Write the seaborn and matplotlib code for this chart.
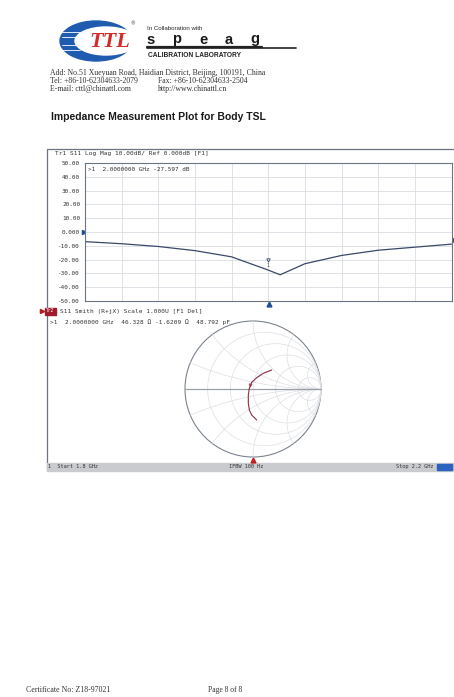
import matplotlib.pyplot as plt
import seaborn as sns
import numpy as np
import pandas as pd
from matplotlib.patches import Ellipse, Rectangle, Circle

# S11 log magnitude trace
freq_ghz = [1.80, 1.84, 1.88, 1.92, 1.96, 2.00, 2.013, 2.04, 2.08, 2.12, 2.16, 2.20]
s11_db = [-7.0, -8.5, -10.5, -13.5, -18.0, -27.6, -31.0, -23.0, -17.0, -13.2, -11.0, -8.8]

# S11 Smith trace, reflection coefficient real / imaginary part
gamma_re = [0.275, 0.151, 0.054, -0.019, -0.054, -0.069, -0.069, -0.054, -0.019, 0.054]
gamma_im = [0.280, 0.231, 0.166, 0.098, 0.010, -0.088, -0.210, -0.309, -0.382, -0.456]

ytick_vals = [50, 40, 30, 20, 10, 0, -10, -20, -30, -40, -50]
ytick_labels = ['50.00', '40.00', '30.00', '20.00', '10.00', '0.000',
                '-10.00', '-20.00', '-30.00', '-40.00', '-50.00']

W, H = 454, 697
sns.set_style('white')
plt.rcParams['font.family'] = ['DejaVu Sans']
fig = plt.figure(figsize=(W / 100, H / 100), dpi=100)

MONO = 'DejaVu Sans Mono'
SERIF = 'Liberation Serif'
SANS = 'Liberation Sans'


def px_axes(x0, y0, x1, y1):
    return fig.add_axes([x0 / W, 1 - y1 / H, (x1 - x0) / W, (y1 - y0) / H])


# page layer in pixel coordinates
page = fig.add_axes([0, 0, 1, 1])
page.set_xlim(0, W)
page.set_ylim(H, 0)
page.axis('off')

# logo
page.add_patch(Ellipse((96, 41), 72, 40, color='#1f5cb0'))
for yy in (32, 37, 45, 50):
    page.plot([62, 80], [yy, yy], color='white', lw=0.6)
page.add_patch(Ellipse((106, 41), 62, 28, color='white'))
page.text(110, 42, 'TTL', family=SERIF, style='italic', weight='bold',
          fontsize=16, color='#d42a2a', ha='center', va='center')
page.text(133, 24, '®', fontsize=3.5, color='#333', ha='center', va='center')

page.text(147, 29, 'In Collaboration with', family=SANS, fontsize=4.4,
          color='#222', va='center')
for i, ch in enumerate('speag'):
    page.text(151 + i * 26, 39.5, ch, family=SANS, weight='bold', fontsize=10.5,
              color='#1a1a1a', ha='center', va='center')
page.plot([147, 296], [47.5, 47.5], color='#222', lw=1.2)
page.plot([147, 262], [46.5, 46.5], color='#222', lw=1.6)
page.text(148, 55.5, 'CALIBRATION LABORATORY', family=SANS, weight='bold',
          fontsize=4.8, color='#222', va='center')

page.text(50, 73, 'Add: No.51 Xueyuan Road, Haidian District, Beijing, 100191, China',
          family=SERIF, fontsize=5.55, color='#333', va='center')
page.text(50, 81, 'Tel: +86-10-62304633-2079', family=SERIF, fontsize=5.55,
          color='#333', va='center')
page.text(158, 81, 'Fax: +86-10-62304633-2504', family=SERIF, fontsize=5.55,
          color='#333', va='center')
page.text(50, 89, 'E-mail: cttl@chinattl.com', family=SERIF, fontsize=5.55,
          color='#333', va='center')
page.text(158, 89, 'http://www.chinattl.cn', family=SERIF, fontsize=5.55,
          color='#333', va='center')

page.text(51, 117, 'Impedance Measurement Plot for Body TSL', family=SANS,
          weight='bold', fontsize=7.45, color='#1a1a1a', va='center')

# instrument screen frame
page.add_patch(Rectangle((47, 149), 410, 321, fill=False, ec='#6b7480', lw=0.9))
page.text(55, 154, 'Tr1 S11 Log Mag 10.00dB/ Ref 0.000dB [F1]', family=MONO,
          fontsize=4.45, color='#333', va='center')
page.plot([84], [232], marker='>', ms=3, color='#1f4f9a')
page.plot([452], [240], marker='<', ms=3, color='#1f4f9a')
page.plot([269], [303.5], marker='^', ms=3.5, color='#1f4f9a')

# Tr2 header and marker readout
page.plot([42], [311], marker='>', ms=3, color='#b02020')
page.add_patch(Rectangle((45, 307.5), 11, 7, color='#a01c2c'))
page.text(50.5, 311, 'Tr2', family=MONO, fontsize=3.3, color='white',
          ha='center', va='center')
page.text(60, 311, 'S11 Smith (R+jX) Scale 1.000U [F1 Del]', family=MONO,
          fontsize=4.45, color='#333', va='center')
page.text(50, 322, '>1  2.0000000 GHz  46.328 Ω -1.6209 Ω  48.792 pF',
          family=MONO, fontsize=4.4, color='#333', va='center')

# status bar
page.add_patch(Rectangle((47, 463), 410, 7.5, color='#c9cbcf'))
page.add_patch(Rectangle((437, 463.5), 15, 6.5, color='#2a62c0'))
page.text(48, 466.8, '1  Start 1.8 GHz', family=MONO, fontsize=3.8,
          color='#333', va='center')
page.text(246, 466.8, 'IFBW 100 Hz', family=MONO, fontsize=3.8,
          color='#333', va='center', ha='center')
page.text(434, 466.8, 'Stop 2.2 GHz', family=MONO, fontsize=3.8,
          color='#333', va='center', ha='right')
page.plot([253], [460], marker='^', ms=3.5, color='#c02020')

# footer
page.text(26, 690, 'Certificate No: Z18-97021', family=SERIF, fontsize=5.7,
          color='#333', va='center')
page.text(208, 690, 'Page 8 of 8', family=SERIF, fontsize=5.5,
          color='#333', va='center')

# ---- log magnitude panel ----
ax1 = px_axes(85, 163, 451.5, 301)
df1 = pd.DataFrame({'freq': freq_ghz, 's11': s11_db})
sns.lineplot(data=df1, x='freq', y='s11', ax=ax1, color='#3a4868', lw=0.9)
ax1.set_xlim(1.8, 2.2)
ax1.set_ylim(-50, 50)
ax1.set_xticks(np.linspace(1.8, 2.2, 11))
ax1.set_xticklabels([])
ax1.set_yticks(ytick_vals)
ax1.set_yticklabels(ytick_labels, family=MONO, fontsize=4.3, color='#333')
ax1.tick_params(length=0, pad=3.5)
ax1.grid(True, color='#d9dde2', lw=0.6)
ax1.set_xlabel('')
ax1.set_ylabel('')
for s in ax1.spines.values():
    s.set_color('#6b7480')
    s.set_linewidth(0.8)
ax1.text(0.008, 0.97, '>1  2.0000000 GHz -27.597 dB', transform=ax1.transAxes,
         family=MONO, fontsize=4.3, color='#333', va='top')
ax1.plot([2.0], [-20], marker='v', ms=2.5, mfc='none', mec='#3a4868', mew=0.6)
ax1.text(2.0, -24.5, '1', family=MONO, fontsize=3.5, color='#3a4868',
         ha='center', va='center')

# ---- Smith chart panel ----
R = 68
lim = 72 / R
ax2 = px_axes(253 - 72, 389 - 72, 253 + 72, 389 + 72)
ax2.set_xlim(-lim, lim)
ax2.set_ylim(-lim, lim)
ax2.set_aspect('equal')
ax2.axis('off')
ax2.patch.set_alpha(0)

grid_c = '#dcdfe3'
t = np.linspace(0, 2 * np.pi, 400)
for r in [0.2, 0.5, 1.0, 2.0, 5.0]:
    c, rad = r / (1 + r), 1 / (1 + r)
    ax2.plot(c + rad * np.cos(t), rad * np.sin(t), color=grid_c, lw=0.5)
for x in [0.2, 0.5, 1.0, 2.0, 5.0]:
    for sgn in (1, -1):
        rr = np.linspace(0, 60, 2000)
        z = rr + 1j * sgn * x
        g = (z - 1) / (z + 1)
        ax2.plot(g.real, g.imag, color=grid_c, lw=0.5)
ax2.add_patch(Circle((0, 0), 1, fill=False, ec='#7c848e', lw=0.8))
ax2.plot([-1, 1], [0, 0], color='#9aa0a8', lw=0.9)

df2 = pd.DataFrame({'re': gamma_re, 'im': gamma_im})
sns.lineplot(data=df2, x='re', y='im', ax=ax2, sort=False, estimator=None,
             color='#8e2c40', lw=0.8)
ax2.plot([-0.045], [0.06], marker='v', ms=2.2, mfc='none', mec='#8e2c40', mew=0.5)
ax2.set_xlabel('')
ax2.set_ylabel('')

fig.savefig('out.png', dpi=100)
